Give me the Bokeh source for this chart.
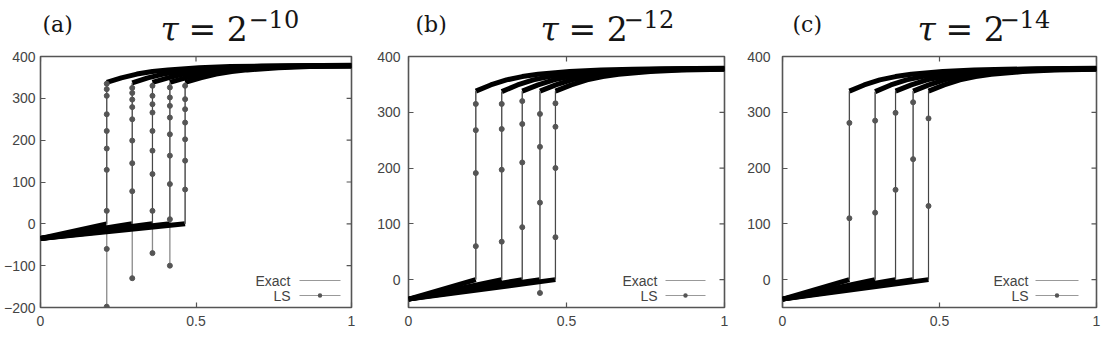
from bokeh.plotting import figure
from bokeh.layouts import row, column
from bokeh.models import Range1d, FixedTicker, Label, Arrow, BoxAnnotation
from bokeh.embed import file_html
from bokeh.resources import INLINE

# ---------------- data ----------------
jump_x = [0.213, 0.295, 0.36, 0.416, 0.465]
left_x = [0.0, 0.0, 0.0, 0.0, 0.0]
left_y = [-35.0, -35.0, -35.0, -35.0, -35.0]
low_end_y = [0.0, 0.0, 0.0, 0.0, 0.0]

upper_x = [
    [0.213, 0.26, 0.31, 0.36, 0.41, 0.51, 0.61, 0.71, 0.81, 1.0],
    [0.295, 0.345, 0.395, 0.445, 0.495, 0.595, 0.695, 0.795, 1.0],
    [0.36, 0.41, 0.46, 0.51, 0.56, 0.66, 0.76, 0.86, 1.0],
    [0.416, 0.466, 0.516, 0.566, 0.616, 0.716, 0.816, 0.916, 1.0],
    [0.465, 0.515, 0.565, 0.615, 0.665, 0.765, 0.865, 1.0],
]
upper_y = [
    [338, 349, 358, 364, 368, 373, 376, 377, 378, 379],
    [337, 349, 358, 364, 368, 373, 376, 377, 378.5],
    [338, 349, 358, 364, 368, 373, 376, 377, 378],
    [338, 349, 358, 364, 368, 373, 376, 377, 377.5],
    [338, 349, 358, 364, 368, 373, 376, 377],
]

# LS values inside the steep layer (per panel, per curve)
ls_a = [
    [335, 322, 306, 262, 222, 180, 129, 31, -60, -198],
    [325, 313, 297, 279, 250, 199, 145, 78, -130],
    [330, 306, 286, 266, 222, 175, 119, 31, -70],
    [326, 302, 282, 254, 214, 163, 95, 11, -100],
    [330, 298, 274, 242, 202, 151, 82],
]
ls_b = [
    [315, 268, 191, 60],
    [315, 270, 197, 68],
    [320, 279, 210, 94],
    [297, 238, 138, -24],
    [316, 274, 200, 76],
]
ls_c = [
    [281, 110],
    [285, 120],
    [299, 161],
    [318, 216],
    [289, 132],
]

panel_tags = ["(a)", "(b)", "(c)"]
tau_exps = ["\u221210", "\u221212", "\u221214"]
y_lows = [-200, -50, -50]
y_highs = [400, 400, 400]
y_ticks = [[-200, -100, 0, 100, 200, 300, 400], [0, 100, 200, 300, 400], [0, 100, 200, 300, 400]]
x_ticks = [0, 0.5, 1]
legend_labels = ["Exact", "LS"]
ls_sets = [ls_a, ls_b, ls_c]

# ---------------- layout / style ----------------
widths = [370, 370, 362]
b_left = [33, 38, 42]
b_right = [19, 16, 6]
frame_w = [318, 316, 314]
frame_h = 251
y_standoff = [5, 8, 12]
tag_x = [2, 7, 10]
tau_x = [120, 132, 135]
eq_x = [148, 160, 163]
sup_x = [208, 215, 217]
leg_text_x = [250, 249, 246]
leg_s0 = [259, 257, 253]
leg_s1 = [300, 297, 296]
TH = 48          # height of title strip
# vertical centres (px from top of the strip) of the title pieces
TAG_MID = 24.4
MAIN_MID = 28.6
SUP_MID = 18.7
TICK_LEN = 5

FRAME = "#555555"
TICKF = "Liberation Sans"
SERIF = "DejaVu Serif"


def title_fig(i):
    # a strip whose frame is exactly the canvas; ranges are in pixels (y up)
    t = figure(frame_width=widths[i], frame_height=TH, output_backend="svg",
               toolbar_location=None, x_axis_type=None, y_axis_type=None,
               min_border=0, margin=0,
               min_border_left=0, min_border_right=0, min_border_top=0, min_border_bottom=0,
               x_range=Range1d(0, widths[i]), y_range=Range1d(0, TH))
    t.outline_line_color = None
    t.grid.visible = False
    common = dict(text_font=SERIF, text_color="#151515", text_baseline="middle")
    t.add_layout(Label(x=tag_x[i], y=TH - TAG_MID, text=panel_tags[i],
                       text_font_size="22px", **common))
    t.add_layout(Label(x=tau_x[i], y=TH - MAIN_MID, text="\u03c4", text_font_size="33px",
                       text_font_style="italic", **common))
    t.add_layout(Label(x=eq_x[i], y=TH - MAIN_MID, text="= 2", text_font_size="33px", **common))
    t.add_layout(Label(x=sup_x[i], y=TH - SUP_MID, text=tau_exps[i],
                       text_font_size="24px", **common))
    return t


def make_panel(i):
    p = figure(width=widths[i], height=351 - TH, output_backend="svg", toolbar_location=None,
               x_range=Range1d(0, 1), y_range=Range1d(y_lows[i], y_highs[i]),
               min_border_left=b_left[i], min_border_right=b_right[i],
               min_border_top=56 - TH, min_border_bottom=44,
               background_fill_color="white", border_fill_color="white", margin=0)
    p.grid.visible = False
    p.outline_line_color = FRAME
    p.outline_line_width = 1.6

    for ax, tk in ((p.xaxis[0], x_ticks), (p.yaxis[0], y_ticks[i])):
        ax.ticker = FixedTicker(ticks=tk)
        ax.axis_line_color = None
        ax.major_tick_in = TICK_LEN
        ax.major_tick_out = 0
        ax.minor_tick_line_color = None
        ax.major_tick_line_color = FRAME
        ax.major_tick_line_width = 1.2
        ax.major_label_text_font = TICKF
        ax.major_label_text_font_size = "14px"
        ax.major_label_text_color = "#444444"
    p.xaxis[0].major_label_standoff = 8
    p.yaxis[0].major_label_standoff = y_standoff[i]
    p.xaxis[0].major_label_overrides = {0: "0", 0.5: "0.5", 1: "1"}

    # mirrored inward ticks on right and top sides (gnuplot style)
    yt = y_ticks[i]
    dx = TICK_LEN / frame_w[i] * 1.0
    dy = TICK_LEN / frame_h * (y_highs[i] - y_lows[i])
    p.segment(x0=[1.0] * len(yt), y0=yt, x1=[1.0 - dx] * len(yt), y1=yt,
              line_color=FRAME, line_width=1.2)
    p.segment(x0=x_ticks, y0=[y_highs[i]] * len(x_ticks), x1=x_ticks,
              y1=[y_highs[i] - dy] * len(x_ticks), line_color=FRAME, line_width=1.2)

    ls = ls_sets[i]
    for j in range(len(jump_x)):
        xj = jump_x[j]
        # lower and upper smooth branches (dense LS markers + exact -> thick band)
        p.line([left_x[j], xj], [left_y[j], low_end_y[j]], line_color="black", line_width=5)
        p.line(upper_x[j], upper_y[j], line_color="black", line_width=5)
        # LS vertical layer
        lo = min(min(ls[j]), low_end_y[j])
        p.line([xj, xj], [lo, upper_y[j][0]], line_color="#8a8a8a", line_width=1.3)
        # exact jump
        p.line([xj, xj], [low_end_y[j], upper_y[j][0]], line_color="#444444", line_width=1)
        p.scatter([xj] * len(ls[j]), ls[j], marker="circle", size=5,
                  fill_color="#555555", line_color="#555555")

    # legend (labels left, samples right)
    for k, yy in enumerate((27, 12)):
        p.add_layout(Label(x=leg_text_x[i], y=yy, x_units="screen", y_units="screen",
                           text=legend_labels[k], text_font=TICKF, text_font_size="14px",
                           text_color="#444444", text_align="right", text_baseline="middle"))
        p.add_layout(Arrow(x_start=leg_s0[i], y_start=yy, x_end=leg_s1[i], y_end=yy,
                           start_units="screen", end_units="screen", end=None,
                           line_color="#999999", line_width=1.2))
    mx = (leg_s0[i] + leg_s1[i]) / 2
    p.add_layout(BoxAnnotation(left=mx - 2.2, right=mx + 2.2, bottom=12 - 2.2, top=12 + 2.2,
                               left_units="screen", right_units="screen",
                               bottom_units="screen", top_units="screen",
                               fill_color="#555555", fill_alpha=1.0, line_color=None,
                               border_radius=3))
    return p


cols = [column(title_fig(i), make_panel(i), spacing=0, margin=0) for i in range(3)]
layout = row(*cols, spacing=0, margin=0)
open("out.html", "w").write(file_html(layout, INLINE))
